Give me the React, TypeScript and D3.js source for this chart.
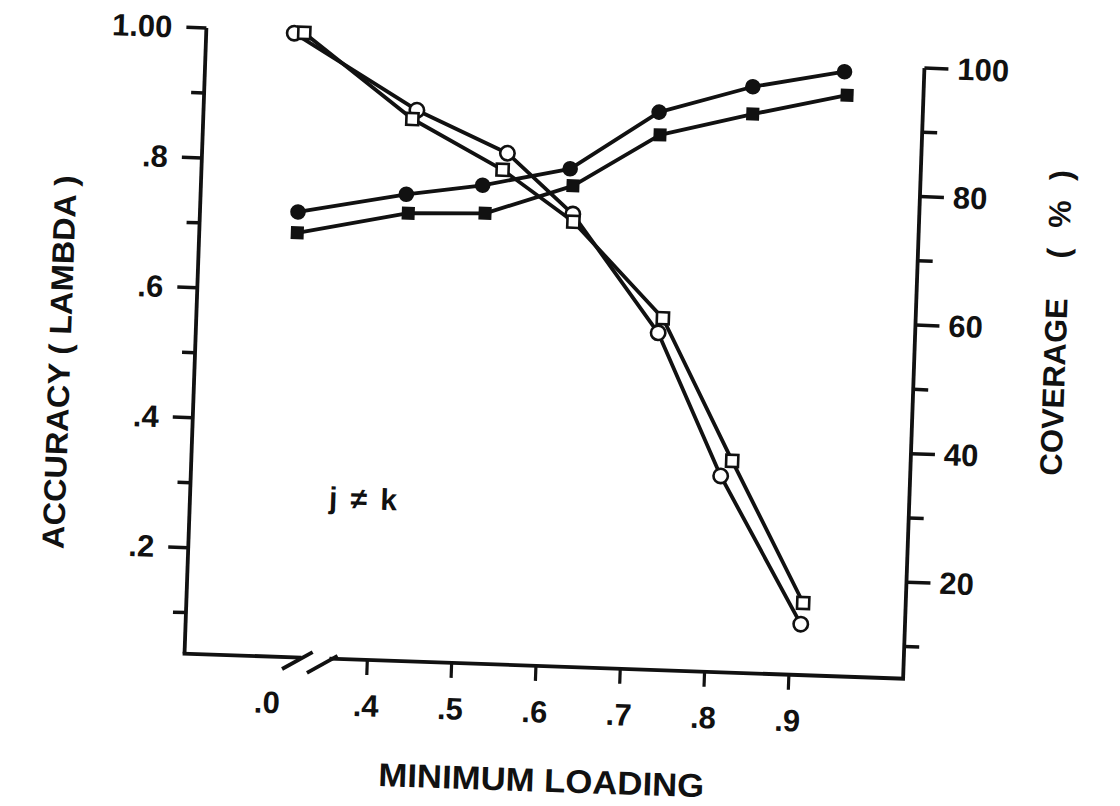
import React from "react";
import * as d3 from "d3";

// minimum loading (x), .0 sits left of the axis break
const loadingTicks = [0, 0.4, 0.5, 0.6, 0.7, 0.8, 0.9];
const loadingLabels = [".0", ".4", ".5", ".6", ".7", ".8", ".9"];

const accuracyTicks = [0.1, 0.2, 0.3, 0.4, 0.5, 0.6, 0.7, 0.8, 0.9, 1.0];
const accuracyLabels = ["", ".2", "", ".4", "", ".6", "", ".8", "", "1.00"];
const coverageTicks = [10, 20, 30, 40, 50, 60, 70, 80, 90, 100];
const coverageLabels = ["", "20", "", "40", "", "60", "", "80", "", "100"];

// accuracy (lambda), filled markers, left axis
const accCircleX = [0, 0.427, 0.517, 0.62, 0.723, 0.833, 0.941];
const accCircleY = [0.722, 0.755, 0.773, 0.803, 0.895, 0.939, 0.967];
const accSquareX = [0, 0.43, 0.521, 0.624, 0.725, 0.834, 0.945];
const accSquareY = [0.69, 0.726, 0.73, 0.777, 0.86, 0.897, 0.931];

// coverage (%), open markers, right axis
const covCircleX = [0, 0.436, 0.545, 0.625, 0.731, 0.811, 0.912];
const covCircleY = [102.0, 90.7, 84.5, 75.4, 57.4, 35.5, 12.9];
const covSquareX = [0, 0.431, 0.54, 0.626, 0.736, 0.824, 0.914];
const covSquareY = [102.1, 89.3, 81.9, 74.2, 59.7, 37.9, 16.2];

const W = 1120;
const H = 806;
const FONT = "'Liberation Sans', Arial, Helvetica, sans-serif";
const INK = "#111";

export default function App() {
  // frame
  const left = 195, right = 914, bottom = 666;

  // broken axis: .0 then .4 - .9
  const x = d3.scaleLinear().domain([0, 0.4, 0.9]).range([293, 377.9, 799.7]);
  const yAcc = d3.scaleLinear().domain([0, 1]).range([690, 40]);
  const yCov = d3.scaleLinear().domain([0, 100]).range([698, 55]);

  const zip = (xs: number[], ys: number[]) => xs.map((v, i) => [v, ys[i]] as [number, number]);
  const accCircle = zip(accCircleX, accCircleY);
  const accSquare = zip(accSquareX, accSquareY);
  const covCircle = zip(covCircleX, covCircleY);
  const covSquare = zip(covSquareX, covSquareY);

  // open circle at .0 drawn beside the square, as in the original
  const nudge = (v: number, dx: number) => (v === 0 ? dx : 0);

  const accLine = d3.line<[number, number]>().x(d => x(d[0])).y(d => yAcc(d[1]));
  const covLine = (dx: number) =>
    d3.line<[number, number]>().x(d => x(d[0]) + nudge(d[0], dx)).y(d => yCov(d[1]));

  const lineStyle = { fill: "none", stroke: INK, strokeWidth: 3.8, strokeLinejoin: "round" as const };

  return (
    <div style={{ position: "absolute", left: 0, top: 0, background: "#fff" }}>
      <svg width={W} height={H} style={{ display: "block" }}>
        <rect width={W} height={H} fill="#fff" />
        <g transform="rotate(2 545 360)" fontFamily={FONT} fontWeight="bold" fill={INK}>
          {/* left axis */}
          <line x1={left} x2={left} y1={yAcc(1)} y2={bottom} stroke={INK} strokeWidth={3.8} />
          {accuracyTicks.map((t, i) => (
            <g key={"la" + i}>
              <line x1={left - (accuracyLabels[i] ? 20 : 13)} x2={left} y1={yAcc(t)} y2={yAcc(t)}
                stroke={INK} strokeWidth={3.5} />
              {accuracyLabels[i] && (
                <text x={left - 34} y={yAcc(t)} textAnchor="end" dominantBaseline="central" fontSize={31}>
                  {accuracyLabels[i]}
                </text>
              )}
            </g>
          ))}

          {/* right axis */}
          <line x1={right} x2={right} y1={yCov(100)} y2={bottom} stroke={INK} strokeWidth={3.8} />
          {coverageTicks.map((t, i) => (
            <g key={"ra" + i}>
              <line x1={right} x2={right + (coverageLabels[i] ? 24 : 15)} y1={yCov(t)} y2={yCov(t)}
                stroke={INK} strokeWidth={3.5} />
              {coverageLabels[i] && (
                <text x={right + 33} y={yCov(t)} textAnchor="start" dominantBaseline="central" fontSize={31}>
                  {coverageLabels[i]}
                </text>
              )}
            </g>
          ))}

          {/* bottom axis with break */}
          <line x1={left - 1.9} x2={312} y1={bottom} y2={bottom} stroke={INK} strokeWidth={3.8} />
          <line x1={340} x2={right + 1.9} y1={bottom} y2={bottom} stroke={INK} strokeWidth={3.8} />
          <line x1={293} y1={678} x2={323} y2={660} stroke={INK} strokeWidth={3.8} />
          <line x1={318} y1={681} x2={348} y2={663} stroke={INK} strokeWidth={3.8} />
          {loadingTicks.map((t, i) => (
            <g key={"xa" + i}>
              {t > 0 && (
                <line x1={x(t)} x2={x(t)} y1={bottom} y2={bottom + 15} stroke={INK} strokeWidth={3.2} />
              )}
              <text x={x(t) - (t === 0 ? 14 : 0)} y={712} textAnchor="middle" dominantBaseline="central"
                fontSize={31}>
                {loadingLabels[i]}
              </text>
            </g>
          ))}

          {/* titles */}
          <text x={556} y={780} textAnchor="middle" dominantBaseline="central" fontSize={33}
            textLength={326} lengthAdjust="spacingAndGlyphs">
            MINIMUM LOADING
          </text>
          <text transform="translate(60,379) rotate(-90)" textAnchor="middle" dominantBaseline="central"
            fontSize={31} textLength={374} lengthAdjust="spacingAndGlyphs">
            ACCURACY ( LAMBDA )
          </text>
          <text transform="translate(1054,305) rotate(-90)" textAnchor="middle" dominantBaseline="central"
            fontSize={31}>
            <tspan>COVERAGE</tspan>
            <tspan dx={40}>(</tspan>
            <tspan dx={20}>%</tspan>
            <tspan dx={20}>)</tspan>
          </text>
          <text x={368} y={505} textAnchor="middle" dominantBaseline="central" fontSize={30}
            textLength={68} lengthAdjust="spacing">
            j ≠ k
          </text>

          {/* series lines */}
          <path d={accLine(accCircle) || ""} {...lineStyle} />
          <path d={accLine(accSquare) || ""} {...lineStyle} />
          <path d={covLine(-10)(covCircle) || ""} {...lineStyle} />
          <path d={covLine(0)(covSquare) || ""} {...lineStyle} />

          {/* markers */}
          {accCircle.map((d, i) => (
            <circle key={"fc" + i} cx={x(d[0])} cy={yAcc(d[1])} r={7.8} fill={INK} />
          ))}
          {accSquare.map((d, i) => (
            <rect key={"fs" + i} x={x(d[0]) - 6.5} y={yAcc(d[1]) - 6.5} width={13} height={13} fill={INK} />
          ))}
          {covCircle.map((d, i) => (
            <circle key={"oc" + i} cx={x(d[0]) + nudge(d[0], -10)} cy={yCov(d[1])} r={7.2}
              fill="#fff" stroke={INK} strokeWidth={2.6} />
          ))}
          {covSquare.map((d, i) => (
            <rect key={"os" + i} x={x(d[0]) - 6} y={yCov(d[1]) - 6} width={12} height={12}
              fill="#fff" stroke={INK} strokeWidth={2.6} />
          ))}
        </g>
      </svg>
    </div>
  );
}
